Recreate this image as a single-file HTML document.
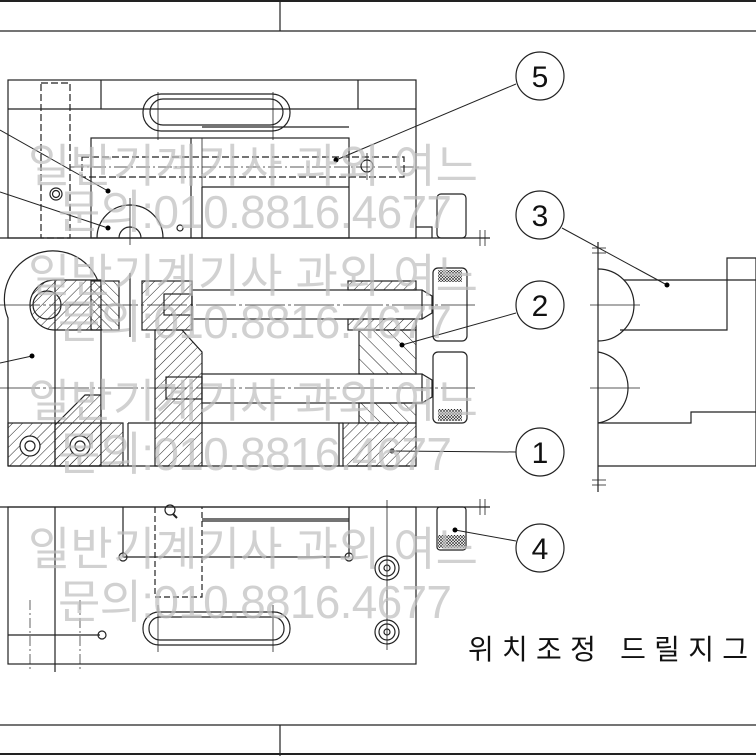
<!DOCTYPE html>
<html><head><meta charset="utf-8"><style>
html,body{margin:0;padding:0;background:#fff;}
svg{display:block}
</style></head><body>
<svg width="756" height="756" viewBox="0 0 756 756" xmlns="http://www.w3.org/2000/svg">
<defs>
<pattern id="h1" patternUnits="userSpaceOnUse" width="7" height="7" patternTransform="rotate(45)"><line x1="0" y1="0" x2="0" y2="7" stroke="#222" stroke-width="1"/></pattern>
<pattern id="h2" patternUnits="userSpaceOnUse" width="7" height="7" patternTransform="rotate(-45)"><line x1="0" y1="0" x2="0" y2="7" stroke="#222" stroke-width="1"/></pattern>
<pattern id="h3" patternUnits="userSpaceOnUse" width="10" height="10" patternTransform="rotate(-45)"><line x1="0" y1="0" x2="0" y2="10" stroke="#222" stroke-width="1"/></pattern>
<pattern id="kn" patternUnits="userSpaceOnUse" width="3" height="3"><path d="M0 0L3 3M3 0L0 3" stroke="#222" stroke-width="0.6"/></pattern>
</defs>
<g fill="none" stroke="#222" stroke-width="1.2">
<line x1="0" y1="1" x2="756" y2="1" stroke-width="2"/>
<line x1="0" y1="31" x2="756" y2="31"/>
<line x1="280" y1="0" x2="280" y2="31"/>
<line x1="0" y1="725" x2="756" y2="725"/>
<line x1="0" y1="754" x2="756" y2="754" stroke-width="2"/>
<line x1="280" y1="725" x2="280" y2="756"/>

<rect x="8" y="80" width="408" height="158"/>
<line x1="8" y1="109" x2="416" y2="109"/>
<line x1="101" y1="80" x2="101" y2="109"/>
<line x1="358" y1="80" x2="358" y2="109"/>
<rect x="143" y="94" width="147" height="37" rx="18"/>
<rect x="150" y="99" width="133" height="26" rx="13"/>
<line x1="158" y1="92" x2="158" y2="140" stroke-width="0.8"/>
<line x1="273" y1="92" x2="273" y2="140" stroke-width="0.8"/>
<rect x="41" y="83" width="29" height="155" stroke-dasharray="7,3"/>
<circle cx="56" cy="194" r="6"/><circle cx="56" cy="194" r="3.5"/>
<rect x="91" y="138" width="258" height="100"/>
<line x1="191" y1="138" x2="191" y2="238"/>
<line x1="202" y1="187" x2="349" y2="187"/>
<line x1="202" y1="187" x2="202" y2="238"/>
<line x1="202" y1="187" x2="202" y2="138" stroke-width="0.8"/>
<line x1="202" y1="127" x2="349" y2="127"/>
<rect x="82" y="157" width="322" height="20" stroke-dasharray="7,3"/>
<line x1="70" y1="167" x2="420" y2="167" stroke-width="0.7" stroke-dasharray="14,3,2,3"/>
<circle cx="367" cy="166" r="6"/>
<line x1="367" y1="153" x2="367" y2="180" stroke-width="0.8"/>
<path d="M97 238 A33 33 0 0 1 163 238"/>
<path d="M119 238 A11 11 0 0 1 141 238"/>
<line x1="130" y1="198" x2="130" y2="245" stroke-width="0.8"/>
<circle cx="180" cy="228" r="3"/>
<rect x="437" y="194" width="29" height="44" rx="4"/>
<path d="M416 227 L432 227 L432 238"/>
<line x1="0" y1="238" x2="490" y2="238"/>
<line x1="480" y1="230" x2="480" y2="246" stroke-width="0.8"/>
<line x1="485" y1="230" x2="485" y2="246" stroke-width="0.8"/>

<path d="M8 466 L8 318 A47 47 0 0 1 98 281"/>
<path d="M55 280 L101 280 L101 330 L55 330 A25 25 0 0 1 55 280 Z" fill="url(#h1)"/>
<circle cx="47" cy="305" r="14"/>
<rect x="91" y="281" width="28" height="49" fill="url(#h2)"/>
<line x1="130" y1="273" x2="130" y2="337"/>
<rect x="142" y="281" width="50" height="49" fill="url(#h1)"/>
<path d="M155 330 L182 330 L202 352 L202 466 L155 466 Z" fill="url(#h1)"/>
<line x1="55" y1="280" x2="55" y2="466"/>
<line x1="101" y1="330" x2="101" y2="423"/>
<path d="M55 425 L85 395 L101 395 L101 466 L55 466 Z" fill="url(#h1)"/>
<rect x="8" y="423" width="115" height="43" fill="url(#h1)"/>
<line x1="128" y1="423" x2="128" y2="466"/>
<line x1="128" y1="423" x2="343" y2="423"/>
<circle cx="30" cy="446" r="10" fill="#fff"/><circle cx="30" cy="446" r="5"/>
<circle cx="80" cy="446" r="10" fill="#fff"/><circle cx="80" cy="446" r="5"/>
<line x1="8" y1="466" x2="416" y2="466"/>
<rect x="192" y="290" width="230" height="29" fill="#fff"/>
<path d="M422 290 L432 296 L432 313 L422 319"/>
<rect x="164" y="294" width="28" height="21"/>
<rect x="202" y="374" width="220" height="29" fill="#fff"/>
<path d="M422 374 L432 380 L432 397 L422 403"/>
<rect x="166" y="377" width="36" height="22"/>
<rect x="348" y="281" width="68" height="9" fill="url(#h1)"/>
<rect x="348" y="319" width="68" height="11" fill="url(#h1)"/>
<rect x="359" y="330" width="57" height="44" fill="url(#h3)"/>
<rect x="359" y="403" width="57" height="20" fill="url(#h3)"/>
<rect x="343" y="423" width="73" height="43" fill="url(#h1)"/>
<line x1="339" y1="423" x2="339" y2="466"/>
<rect x="433" y="268" width="34" height="73" rx="5" fill="#fff"/>
<rect x="438" y="270" width="24" height="12" fill="url(#kn)" stroke="none"/>
<rect x="433" y="352" width="34" height="71" rx="5" fill="#fff"/>
<rect x="438" y="409" width="24" height="12" fill="url(#kn)" stroke="none"/>
<line x1="0" y1="305" x2="475" y2="305" stroke-width="0.7" stroke-dasharray="40,3,3,3"/>
<line x1="0" y1="388" x2="475" y2="388" stroke-width="0.7" stroke-dasharray="40,3,3,3"/>

<line x1="0" y1="507" x2="490" y2="507"/>
<line x1="480" y1="499" x2="480" y2="515" stroke-width="0.8"/>
<line x1="485" y1="499" x2="485" y2="515" stroke-width="0.8"/>
<rect x="8" y="507" width="408" height="157"/>
<line x1="55" y1="507" x2="55" y2="672"/>
<line x1="123" y1="507" x2="123" y2="557"/>
<line x1="123" y1="557" x2="349" y2="557"/>
<line x1="349" y1="507" x2="349" y2="557"/>
<line x1="202" y1="519" x2="349" y2="519"/>
<line x1="202" y1="521" x2="349" y2="521"/>
<path d="M155 507 L155 597 L202 597 L202 507" stroke-dasharray="6,3"/>
<circle cx="170" cy="510" r="5"/><line x1="173" y1="514" x2="177" y2="518" stroke-width="2"/>
<circle cx="123" cy="557" r="4"/><circle cx="349" cy="557" r="4"/>
<rect x="143" y="612" width="147" height="33" rx="16"/>
<rect x="149" y="617" width="135" height="23" rx="11"/>
<line x1="158" y1="605" x2="158" y2="652" stroke-width="0.8"/>
<line x1="273" y1="605" x2="273" y2="652" stroke-width="0.8"/>
<line x1="8" y1="635" x2="100" y2="635"/>
<circle cx="102" cy="635" r="4"/>
<line x1="30" y1="600" x2="30" y2="672" stroke-width="0.7" stroke-dasharray="10,3,2,3"/>
<line x1="80" y1="600" x2="80" y2="672" stroke-width="0.7" stroke-dasharray="10,3,2,3"/>
<circle cx="387" cy="568" r="12"/><circle cx="387" cy="568" r="8"/><circle cx="387" cy="568" r="3"/>
<circle cx="387" cy="632" r="12"/><circle cx="387" cy="632" r="8"/><circle cx="387" cy="632" r="3"/>
<line x1="387" y1="500" x2="387" y2="650" stroke-width="0.8"/>
<rect x="437" y="507" width="29" height="43" rx="3"/>
<rect x="438" y="535" width="27" height="13" fill="url(#kn)" stroke="none"/>

<line x1="598" y1="242" x2="598" y2="492"/>
<path d="M598 269 A36 36 0 0 1 598 341"/>
<path d="M598 352 A36 36 0 0 1 598 423"/>
<path d="M624 280 L756 280 M620 330 L727 330 L727 258 L756 258 L756 466 L598 466 M598 423 L691 423 L691 412 L756 412"/>
<line x1="590" y1="305" x2="640" y2="305" stroke-width="0.8"/>
<line x1="590" y1="388" x2="640" y2="388" stroke-width="0.8"/>
<line x1="592" y1="248" x2="606" y2="248" stroke-width="0.8"/><line x1="592" y1="253" x2="606" y2="253" stroke-width="0.8"/>
<line x1="592" y1="480" x2="606" y2="480" stroke-width="0.8"/><line x1="592" y1="485" x2="606" y2="485" stroke-width="0.8"/>

<g stroke-width="1">
<line x1="516" y1="84" x2="336" y2="160"/>
<line x1="562" y1="228" x2="667" y2="285"/>
<line x1="516" y1="313" x2="402" y2="345"/>
<line x1="516" y1="452" x2="392" y2="451"/>
<line x1="516" y1="541" x2="455" y2="530"/>
<line x1="0" y1="130" x2="108" y2="191"/>
<line x1="0" y1="192" x2="108" y2="228"/>
<line x1="0" y1="363" x2="32" y2="356"/>
</g>
<g fill="#000" stroke="none">
<circle cx="336" cy="160" r="2.5"/><circle cx="667" cy="285" r="2.5"/><circle cx="402" cy="345" r="2.5"/>
<circle cx="392" cy="451" r="2.5"/><circle cx="455" cy="530" r="2.5"/><circle cx="108" cy="191" r="2.5"/>
<circle cx="108" cy="228" r="2.5"/><circle cx="32" cy="356" r="2.5"/>
</g>
<circle cx="540" cy="76" r="24" fill="#fff"/>
<circle cx="540" cy="215" r="24" fill="#fff"/>
<circle cx="540" cy="305" r="24" fill="#fff"/>
<circle cx="540" cy="452" r="24" fill="#fff"/>
<circle cx="540" cy="548" r="24" fill="#fff"/>
</g>
<g font-family="Liberation Sans, sans-serif" font-size="30" text-anchor="middle" fill="#111">
<text x="540" y="87">5</text><text x="540" y="226">3</text><text x="540" y="316">2</text><text x="540" y="463">1</text><text x="540" y="559">4</text>
</g>
<text x="468" y="659" font-family="'Liberation Sans','Noto Sans CJK KR',sans-serif" font-size="28" textLength="280" fill="#111">위치조정 드릴지그</text>
<g font-family="'Liberation Sans','Noto Sans CJK KR',sans-serif" font-size="46" fill="#bdbdbd" fill-opacity="0.7">
<text x="28" y="182" textLength="450">일반기계기사 과외 여느</text>
<text x="58" y="228" textLength="394">문의:010.8816.4677</text>
<text x="28" y="292" textLength="450">일반기계기사 과외 여느</text>
<text x="58" y="338" textLength="394">문의:010.8816.4677</text>
<text x="28" y="417" textLength="450">일반기계기사 과외 여느</text>
<text x="58" y="470" textLength="394">문의:010.8816.4677</text>
<text x="28" y="565" textLength="450">일반기계기사 과외 여느</text>
<text x="58" y="618" textLength="394">문의:010.8816.4677</text>
</g>
</svg>
</body></html>
